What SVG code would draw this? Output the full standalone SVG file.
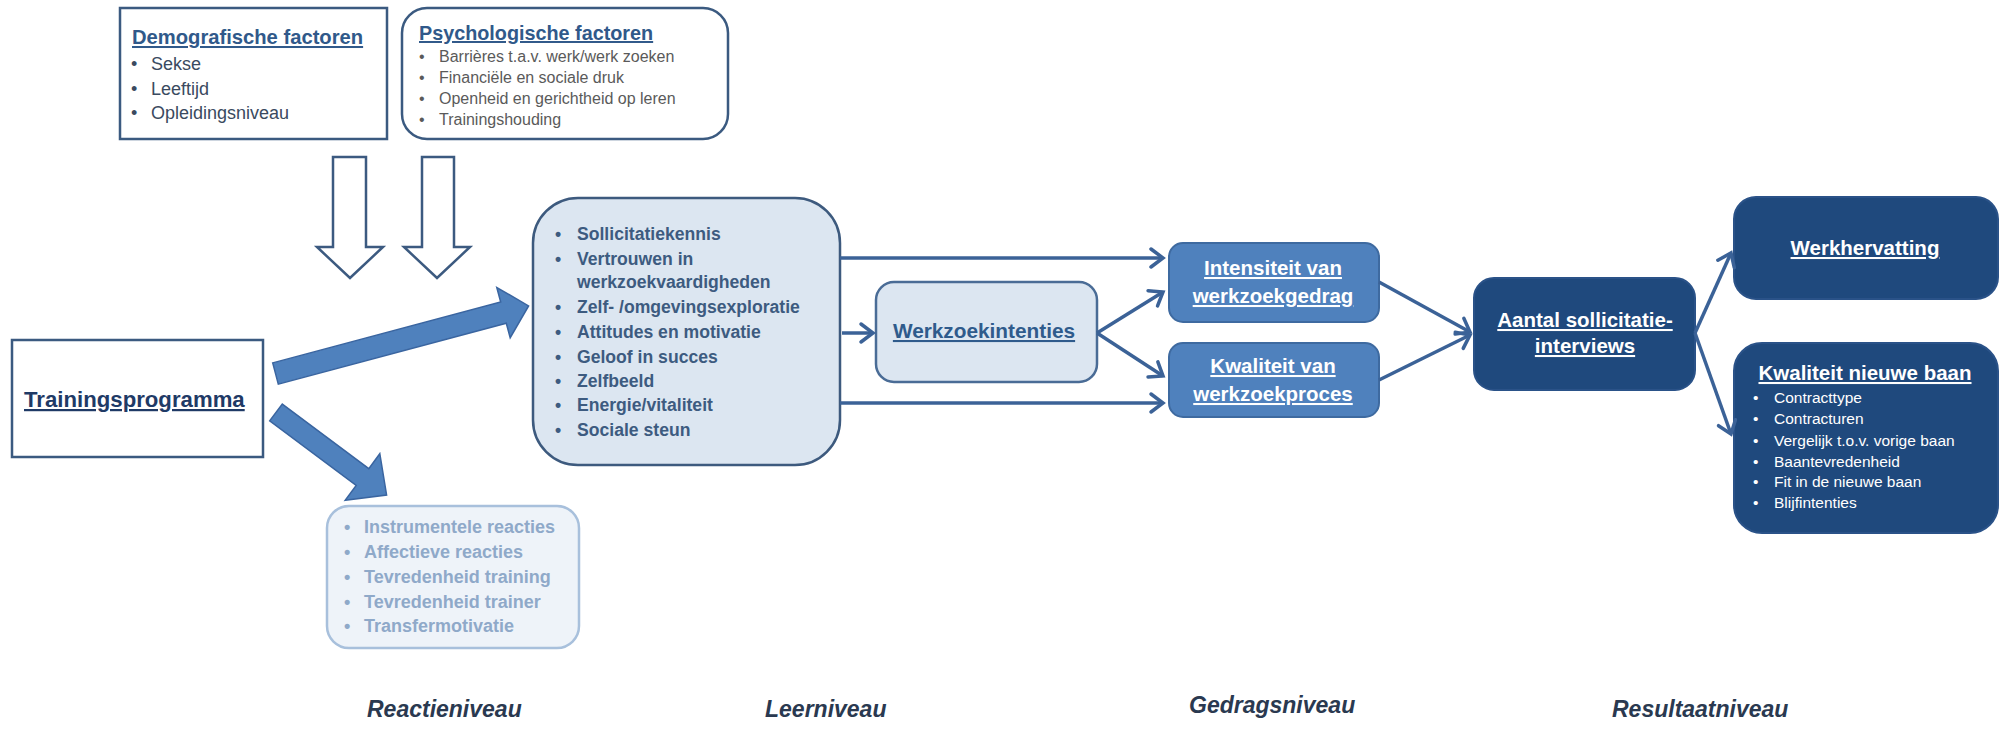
<svg xmlns="http://www.w3.org/2000/svg" width="2005" height="731" viewBox="0 0 2005 731">
<defs>
<style>
text{font-family:"Liberation Sans",Arial,sans-serif;}
.u{text-decoration:underline;}
.b{font-weight:bold;}
.demo{font-size:18px;fill:#3a4a60;}
.psy{font-size:16px;fill:#5a5a5a;}
.learn{font-size:17.6px;font-weight:bold;fill:#3d5b80;}
.react{font-size:18px;font-weight:bold;fill:#8fa9c9;}
.res{font-size:15.5px;fill:#ffffff;}
.wt{font-size:20.5px;font-weight:bold;fill:#ffffff;text-decoration:underline;}
.lvl{font-size:23px;font-weight:bold;font-style:italic;fill:#2a3950;}
.conn{stroke:#3b6297;stroke-width:3.5;fill:none;marker-end:url(#chev);}
.hollow{fill:#ffffff;stroke:#3c5a80;stroke-width:2.5;stroke-linejoin:miter;}
.block{fill:#4f81bd;stroke:#3a65a0;stroke-width:1.5;}
</style>
<marker id="chev" markerUnits="userSpaceOnUse" markerWidth="24" markerHeight="24" viewBox="-16 -12 20 24" refX="0" refY="0" orient="auto">
<path d="M-12,-9 L0,0 L-12,9" fill="none" stroke="#3b6297" stroke-width="3.5" stroke-linecap="round" stroke-linejoin="miter"/>
</marker>
</defs>
<rect width="2005" height="731" fill="#ffffff"/>

<g id="demografische">
<rect x="120" y="8" width="267" height="131" fill="#ffffff" stroke="#3b5a80" stroke-width="2.5"/>
<text x="132" y="44" class="b u" font-size="20.2" fill="#30598a">Demografische factoren</text>
<text x="131" y="70" class="demo">•</text><text x="151" y="70" class="demo">Sekse</text>
<text x="131" y="95" class="demo">•</text><text x="151" y="95" class="demo">Leeftijd</text>
<text x="131" y="119" class="demo">•</text><text x="151" y="119" class="demo">Opleidingsniveau</text>
</g>

<g id="psychologische">
<rect x="402" y="8" width="326" height="131" rx="25" ry="25" fill="#ffffff" stroke="#3b5a80" stroke-width="2.5"/>
<text x="419" y="40" class="b u" font-size="19.8" fill="#30598a">Psychologische factoren</text>
<text x="419" y="62" class="psy">•</text><text x="439" y="62" class="psy">Barrières t.a.v. werk/werk zoeken</text>
<text x="419" y="83" class="psy">•</text><text x="439" y="83" class="psy">Financiële en sociale druk</text>
<text x="419" y="104" class="psy">•</text><text x="439" y="104" class="psy">Openheid en gerichtheid op leren</text>
<text x="419" y="125" class="psy">•</text><text x="439" y="125" class="psy">Trainingshouding</text>
</g>

<g id="down-arrows">
<polygon class="hollow" points="333,157 366,157 366,247 383,247 350,278 317,247 333,247"/>
<polygon class="hollow" points="422,157 454,157 454,247 470,247 437,278 404,247 422,247"/>
</g>

<g id="trainingsprogramma">
<rect x="12" y="340" width="251" height="117" fill="#ffffff" stroke="#3b5a80" stroke-width="2.5"/>
<text x="24" y="407" class="b u" font-size="22.2" fill="#1f3a66">Trainingsprogramma</text>
</g>

<g id="block-arrows">
<polygon class="block" points="272.7,362.9 500.7,302.0 496.8,287.5 528.6,305.9 510.2,337.7 506.3,323.2 278.3,384.1"/>
<polygon class="block" points="282.3,404.1 368.8,468.6 379.8,453.7 386.6,495 345.2,500.3 356.2,485.4 269.7,420.9"/>
</g>

<g id="reactie">
<rect x="327" y="506" width="252" height="142" rx="22" ry="22" fill="#eef3f9" stroke="#a8c0dc" stroke-width="2.5"/>
<text x="344" y="533" class="react">•</text><text x="364" y="533" class="react">Instrumentele reacties</text>
<text x="344" y="558" class="react">•</text><text x="364" y="558" class="react">Affectieve reacties</text>
<text x="344" y="583" class="react">•</text><text x="364" y="583" class="react">Tevredenheid training</text>
<text x="344" y="608" class="react">•</text><text x="364" y="608" class="react">Tevredenheid trainer</text>
<text x="344" y="632" class="react">•</text><text x="364" y="632" class="react">Transfermotivatie</text>
</g>

<g id="leren">
<rect x="533" y="198" width="307" height="267" rx="45" ry="45" fill="#dce6f1" stroke="#3d5a7e" stroke-width="2.5"/>
<text x="555" y="240" class="learn">•</text><text x="577" y="240" class="learn">Sollicitatiekennis</text>
<text x="555" y="265" class="learn">•</text><text x="577" y="265" class="learn">Vertrouwen in</text>
<text x="577" y="288" class="learn">werkzoekvaardigheden</text>
<text x="555" y="313" class="learn">•</text><text x="577" y="313" class="learn">Zelf- /omgevingsexploratie</text>
<text x="555" y="338" class="learn">•</text><text x="577" y="338" class="learn">Attitudes en motivatie</text>
<text x="555" y="363" class="learn">•</text><text x="577" y="363" class="learn">Geloof in succes</text>
<text x="555" y="387" class="learn">•</text><text x="577" y="387" class="learn">Zelfbeeld</text>
<text x="555" y="411" class="learn">•</text><text x="577" y="411" class="learn">Energie/vitaliteit</text>
<text x="555" y="436" class="learn">•</text><text x="577" y="436" class="learn">Sociale steun</text>
</g>

<g id="werkzoekintenties">
<rect x="876" y="282" width="221" height="100" rx="18" ry="18" fill="#dce6f1" stroke="#4a6c96" stroke-width="2.5"/>
<text x="984" y="338" text-anchor="middle" class="b u" font-size="20.8" fill="#2f5b8c">Werkzoekintenties</text>
</g>

<g id="intensiteit">
<rect x="1169" y="243" width="210" height="79" rx="14" ry="14" fill="#4f81bd" stroke="#3e6aa0" stroke-width="2"/>
<text x="1273" y="275" text-anchor="middle" class="wt">Intensiteit van</text>
<text x="1273" y="303" text-anchor="middle" class="wt">werkzoekgedrag</text>
</g>

<g id="kwaliteit-proces">
<rect x="1169" y="343" width="210" height="74" rx="14" ry="14" fill="#4f81bd" stroke="#3e6aa0" stroke-width="2"/>
<text x="1273" y="373" text-anchor="middle" class="wt">Kwaliteit van</text>
<text x="1273" y="401" text-anchor="middle" class="wt">werkzoekproces</text>
</g>

<g id="aantal">
<rect x="1474" y="278" width="221" height="112" rx="20" ry="20" fill="#1f497d" stroke="#2a5288" stroke-width="2"/>
<text x="1585" y="327" text-anchor="middle" class="wt">Aantal sollicitatie-</text>
<text x="1585" y="353" text-anchor="middle" class="wt">interviews</text>
</g>

<g id="werkhervatting">
<rect x="1734" y="197" width="264" height="102" rx="22" ry="22" fill="#1f497d" stroke="#2a5288" stroke-width="2"/>
<text x="1865" y="255" text-anchor="middle" class="wt">Werkhervatting</text>
</g>

<g id="kwaliteit-baan">
<rect x="1734" y="343" width="264" height="190" rx="28" ry="28" fill="#1f497d" stroke="#2a5288" stroke-width="2"/>
<text x="1865" y="380" text-anchor="middle" class="wt">Kwaliteit nieuwe baan</text>
<text x="1753" y="403" class="res">•</text><text x="1774" y="403" class="res">Contracttype</text>
<text x="1753" y="424" class="res">•</text><text x="1774" y="424" class="res">Contracturen</text>
<text x="1753" y="446" class="res">•</text><text x="1774" y="446" class="res">Vergelijk t.o.v. vorige baan</text>
<text x="1753" y="467" class="res">•</text><text x="1774" y="467" class="res">Baantevredenheid</text>
<text x="1753" y="487" class="res">•</text><text x="1774" y="487" class="res">Fit in de nieuwe baan</text>
<text x="1753" y="508" class="res">•</text><text x="1774" y="508" class="res">Blijfintenties</text>
</g>

<g id="connectors">
<line class="conn" x1="840" y1="258" x2="1163" y2="258"/>
<line class="conn" x1="842" y1="333" x2="873" y2="333"/>
<line class="conn" x1="840" y1="403" x2="1163" y2="403"/>
<line class="conn" x1="1097" y1="333" x2="1163" y2="292"/>
<line class="conn" x1="1097" y1="333" x2="1163" y2="376"/>
<line class="conn" x1="1379" y1="282" x2="1470" y2="332"/>
<line class="conn" x1="1379" y1="380" x2="1470" y2="335"/>
<line class="conn" x1="1695" y1="333" x2="1731" y2="253"/>
<line class="conn" x1="1695" y1="333" x2="1731" y2="434"/>
</g>

<g id="niveaus">
<text x="367" y="717" class="lvl">Reactieniveau</text>
<text x="765" y="717" class="lvl">Leerniveau</text>
<text x="1189" y="713" class="lvl">Gedragsniveau</text>
<text x="1612" y="717" class="lvl">Resultaatniveau</text>
</g>
</svg>
